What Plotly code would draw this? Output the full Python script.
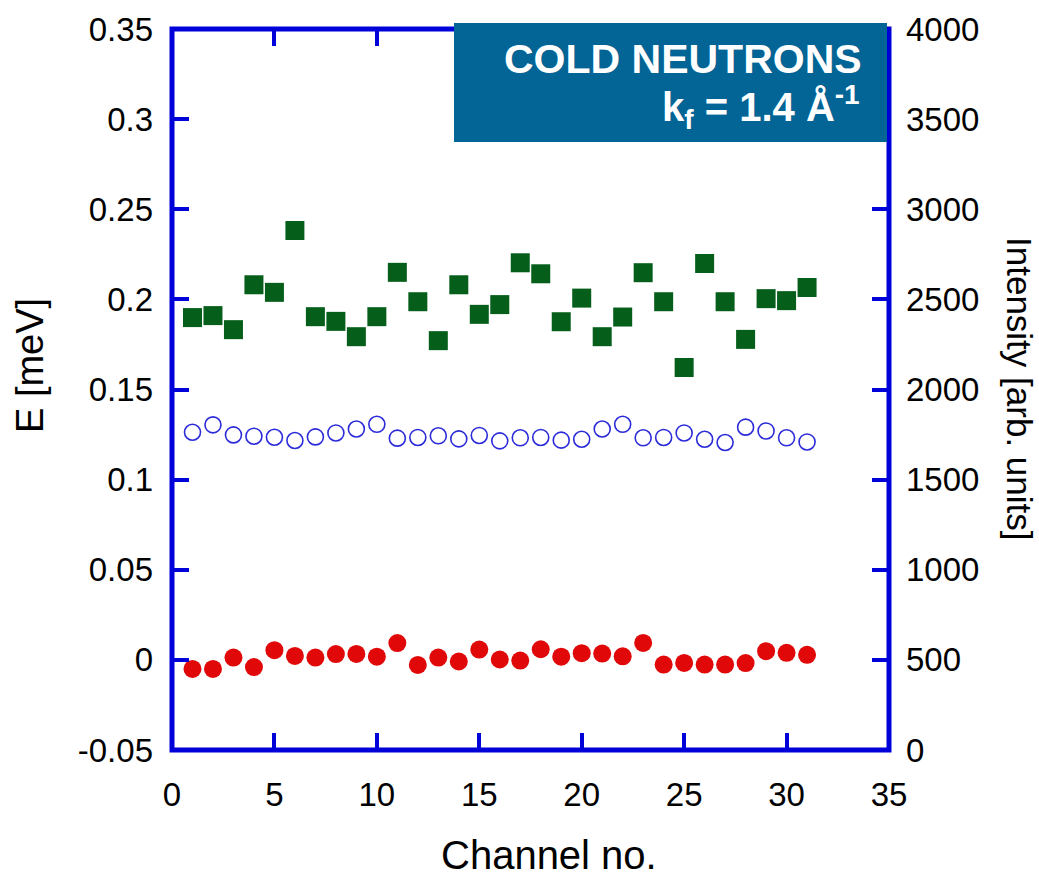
import plotly.graph_objects as go

channels = list(range(1, 32))

# Red filled circles: E centre [meV] (left axis)
energy = [-0.0050, -0.0050, 0.0013, -0.0040, 0.0054, 0.0022, 0.0013, 0.0032, 0.0033, 0.0018,
          0.0093, -0.0028, 0.0013, -0.0009, 0.0057, 0.0002, -0.0004, 0.0059, 0.0018, 0.0037,
          0.0035, 0.0020, 0.0094, -0.0026, -0.0017, -0.0026, -0.0026, -0.0018, 0.0048, 0.0039,
          0.0028]

# Blue open circles: width [meV] (left axis)
width = [0.1263, 0.1304, 0.1248, 0.1241, 0.1235, 0.1217, 0.1237, 0.1259, 0.1281, 0.1307,
         0.1230, 0.1234, 0.1243, 0.1226, 0.1245, 0.1215, 0.1232, 0.1234, 0.1219, 0.1224,
         0.1281, 0.1307, 0.1232, 0.1234, 0.1259, 0.1224, 0.1206, 0.1291, 0.1270, 0.1232,
         0.1209]

# Green squares: intensity [arb. units] (right axis)
intensity = [2399, 2410, 2332, 2581, 2539, 2882, 2404, 2378, 2293, 2404,
             2650, 2487, 2271, 2581, 2417, 2471, 2703, 2642, 2376, 2507,
             2293, 2402, 2648, 2487, 2122, 2699, 2487, 2278, 2504, 2493,
             2566]

x_ticks = [0, 5, 10, 15, 20, 25, 30, 35]
y_ticks = [-0.05, 0, 0.05, 0.1, 0.15, 0.2, 0.25, 0.3, 0.35]
y_tick_text = ["-0.05", "0", "0.05", "0.1", "0.15", "0.2", "0.25", "0.3", "0.35"]
y2_ticks = [0, 500, 1000, 1500, 2000, 2500, 3000, 3500, 4000]

FONT = "Liberation Sans, Arial, Helvetica, sans-serif"
FRAME = "#0000D8"

fig = go.Figure()
fig.add_trace(go.Scatter(x=channels, y=intensity, yaxis="y2", mode="markers",
                         marker=dict(symbol="square", size=19, color="#065E1B"),
                         showlegend=False))
fig.add_trace(go.Scatter(x=channels, y=width, mode="markers",
                         marker=dict(symbol="circle-open", size=16, color="#2B2BD9",
                                     line=dict(width=1.6, color="#2B2BD9")),
                         showlegend=False))
fig.add_trace(go.Scatter(x=channels, y=energy, mode="markers",
                         marker=dict(symbol="circle", size=18, color="#E00808"),
                         showlegend=False))

L, R, T, B = 172, 150, 29, 126
W, H = 1039, 876
pw, ph = W - L - R, H - T - B

def px(xp):
    return (xp - L) / pw

def py(yp):
    return (H - B - yp) / ph

fig.update_layout(
    width=W, height=H,
    margin=dict(l=L, r=R, t=T, b=B),
    paper_bgcolor="white", plot_bgcolor="white",
    font=dict(family=FONT, size=33, color="black"),
    xaxis=dict(range=[0, 35], tickvals=x_ticks, ticks="inside", ticklen=17, tickwidth=4,
               tickcolor=FRAME, showgrid=False, zeroline=False, showline=False,
               mirror="ticks", ticklabelstandoff=22, tickfont=dict(size=33)),
    yaxis=dict(range=[-0.05, 0.35], tickvals=y_ticks, ticktext=y_tick_text, ticks="inside",
               ticklen=17, tickwidth=4, tickcolor=FRAME, showgrid=False, zeroline=False,
               showline=False, ticklabelstandoff=18, tickfont=dict(size=33)),
    yaxis2=dict(range=[0, 4000], tickvals=y2_ticks, overlaying="y", side="right",
                ticks="inside", ticklen=17, tickwidth=4, tickcolor=FRAME, showgrid=False,
                zeroline=False, showline=False, ticklabelstandoff=16, tickfont=dict(size=33)),
)

# Frame
fig.add_shape(type="rect", xref="paper", yref="paper", x0=0, x1=1, y0=0, y1=1,
              line=dict(color=FRAME, width=5), fillcolor="rgba(0,0,0,0)", layer="above")
# Label box
fig.add_shape(type="rect", xref="paper", yref="paper", x0=px(454), x1=px(887),
              y0=py(142), y1=py(23), line=dict(width=0), fillcolor="#036496", layer="above")

fig.add_annotation(xref="paper", yref="paper", x=px(864), y=py(59), xanchor="right",
                   yanchor="middle", showarrow=False, text="<b>COLD NEUTRONS</b>",
                   font=dict(family=FONT, size=41, color="white"))
fig.add_annotation(xref="paper", yref="paper", x=px(862), y=py(107), xanchor="right",
                   yanchor="middle", showarrow=False,
                   text="<b>k<sub>f</sub> = 1.4 Å<sup>-1</sup></b>",
                   font=dict(family=FONT, size=40, color="white"))

# Axis titles
fig.add_annotation(xref="paper", yref="paper", x=px(549), y=py(855), xanchor="center",
                   yanchor="middle", showarrow=False, text="Channel no.",
                   font=dict(family=FONT, size=40, color="black"))
fig.add_annotation(xref="paper", yref="paper", x=px(30), y=py(366), xanchor="center",
                   yanchor="middle", showarrow=False, text="E [meV]", textangle=-90,
                   font=dict(family=FONT, size=38, color="black"))
fig.add_annotation(xref="paper", yref="paper", x=px(1020), y=py(388), xanchor="center",
                   yanchor="middle", showarrow=False, text="Intensity [arb. units]",
                   textangle=90, font=dict(family=FONT, size=35, color="black"))

fig.write_html("out.html")
